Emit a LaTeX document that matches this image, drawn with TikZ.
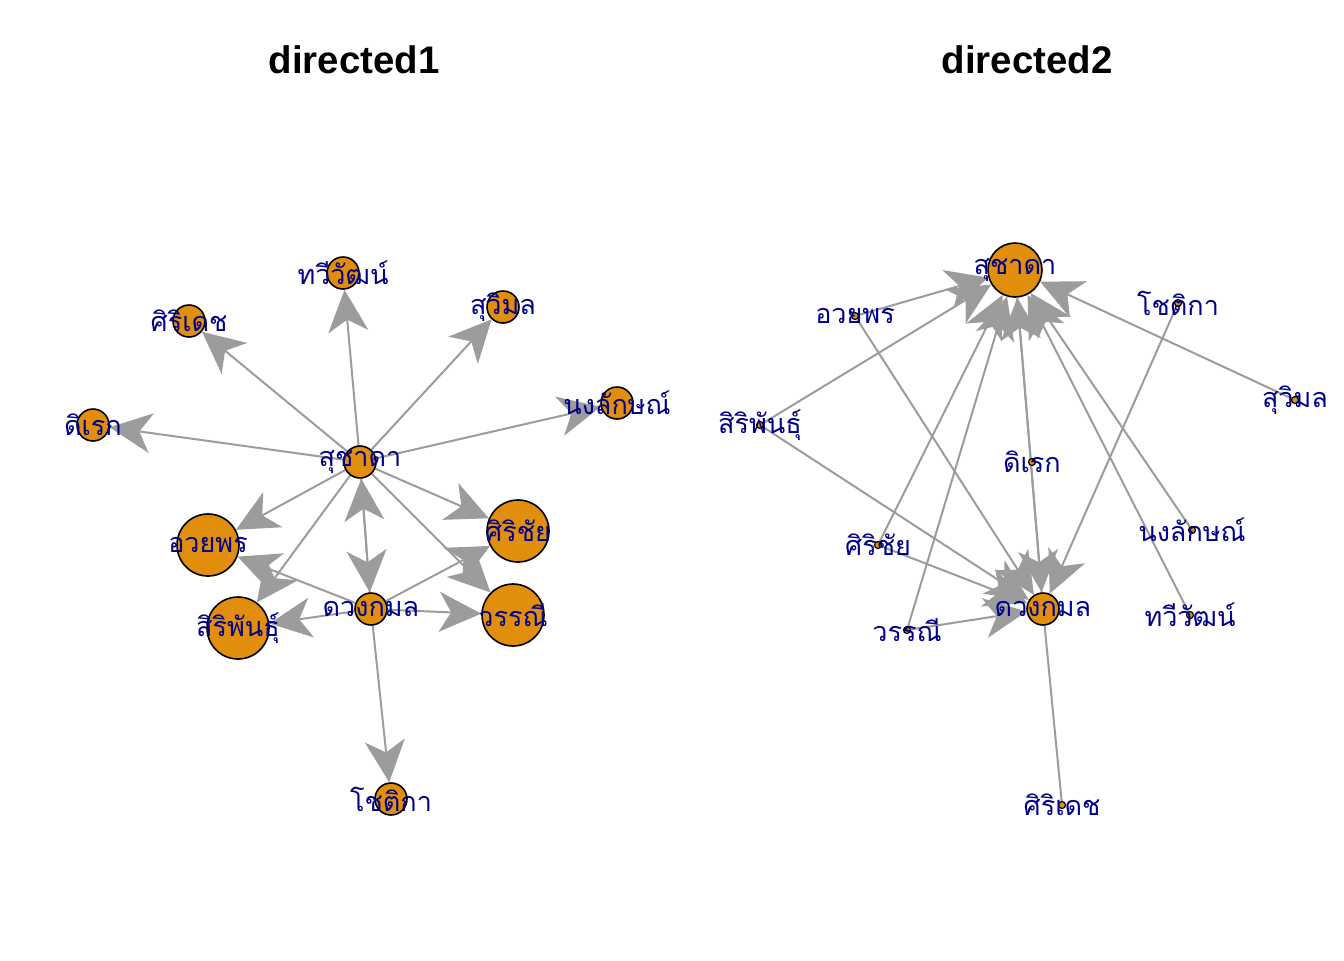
\documentclass[tikz,border=0pt]{standalone}
\usepackage{fontspec}
\setmainfont{Liberation Sans}
\newfontfamily\thaifont[Script=Thai]{Loma}
\usetikzlibrary{arrows.meta,backgrounds}
\definecolor{vfill}{HTML}{E08E0B}
\definecolor{ecol}{HTML}{9C9C9C}
\definecolor{lcol}{HTML}{00008B}

\begin{document}
\begin{tikzpicture}[x=0.5pt, y=-0.5pt,
	v/.style={circle, draw, fill=vfill, line width=0.8pt, inner sep=0pt, minimum size=16pt},
	big/.style={minimum size=31pt},
	dot/.style={minimum size=3.5pt, line width=0.6pt},
	lbl/.style={text=lcol, font=\thaifont\fontsize{13.5}{14}\selectfont, inner sep=0pt},
	e/.style={color=ecol, line width=1pt, -{Stealth[length=21pt, width=20pt, inset=6pt, fill=ecol, color=ecol]}},
	ttl/.style={font=\bfseries\fontsize{19.2}{23}\selectfont}]
		\useasboundingbox (0,0) rectangle (1344,960);

		% directed1
		\node [ttl] (T1) at (354,60) {directed1};
		\node [v] (SU1) at (360,462) [label={[lbl]center:สุชาดา}] {};
		\node [v] (TW1) at (343,273) [label={[lbl]center:ทวีวัฒน์}] {};
		\node [v] (SD1) at (189,321) [label={[lbl]center:ศิริเดช}] {};
		\node [v] (SV1) at (503,307) [label={[lbl]center:สุวิมล}] {};
		\node [v] (NL1) at (617,403) [label={[lbl]center:นงลักษณ์}] {};
		\node [v] (DR1) at (93,425) [label={[lbl]center:ดิเรก}] {};
		\node [v, big] (UP1) at (208,545) [label={[lbl]center:อวยพร}] {};
		\node [v, big] (SC1) at (518,531) [label={[lbl]center:ศิริชัย}] {};
		\node [v, big] (SP1) at (238,628) [label={[lbl]center:สิริพันธุ์}] {};
		\node [v] (DK1) at (371,609) [label={[lbl]center:ดวงกมล}] {};
		\node [v, big] (WN1) at (513,615) [label={[lbl]center:วรรณี}] {};
		\node [v] (CT1) at (391,799) [label={[lbl]center:โชติกา}] {};

		\begin{scope}[on background layer]
		\path[e] (SU1) edge (TW1);
		\path[e] (SU1) edge (SD1);
		\path[e] (SU1) edge (SV1);
		\path[e] (SU1) edge (NL1);
		\path[e] (SU1) edge (DR1);
		\path[e] (SU1) edge (UP1);
		\path[e] (SU1) edge (SC1);
		\path[e] (SU1) edge (SP1);
		\path[e] (SU1) edge (WN1);
		\path[e] (SU1) edge (DK1);
		\path[e] (DK1) edge (SU1);
		\path[e] (DK1) edge (UP1);
		\path[e] (DK1) edge (SP1);
		\path[e] (DK1) edge (WN1);
		\path[e] (DK1) edge (SC1);
		\path[e] (DK1) edge (CT1);
		\end{scope}

		% directed2
		\node [ttl] (T2) at (1027,60) {directed2};
		\node [v, minimum size=27pt] (SU2) at (1015,270) [label={[lbl]center:สุชาดา}] {};
		\node [v, dot] (UP2) at (855,316) [label={[lbl]center:อวยพร}] {};
		\node [v, dot] (CT2) at (1178,303) [label={[lbl]center:โชติกา}] {};
		\node [v, dot] (SV2) at (1295,400) [label={[lbl]center:สุวิมล}] {};
		\node [v, dot] (SP2) at (760,425) [label={[lbl]center:สิริพันธุ์}] {};
		\node [v, dot] (DR2) at (1032,462) [label={[lbl]center:ดิเรก}] {};
		\node [v, dot] (SC2) at (878,545) [label={[lbl]center:ศิริชัย}] {};
		\node [v, dot] (NL2) at (1192,530) [label={[lbl]center:นงลักษณ์}] {};
		\node [v, dot] (WN2) at (907,630) [label={[lbl]center:วรรณี}] {};
		\node [v] (DK2) at (1043,609) [label={[lbl]center:ดวงกมล}] {};
		\node [v, dot] (TW2) at (1190,615) [label={[lbl]center:ทวีวัฒน์}] {};
		\node [v, dot] (SD2) at (1062,805) [label={[lbl]center:ศิริเดช}] {};

		\begin{scope}[on background layer]
		\path[e] (UP2) edge (SU2);
		\path[e] (SP2) edge (SU2);
		\path[e] (SC2) edge (SU2);
		\path[e] (WN2) edge (SU2);
		\path[e] (DK2) edge (SU2);
		\path[e] (NL2) edge (SU2);
		\path[e] (TW2) edge (SU2);
		\path[e] (SV2) edge (SU2);
		\path[e] (SU2) edge (DK2);
		\path[e] (UP2) edge (DK2);
		\path[e] (SP2) edge (DK2);
		\path[e] (SC2) edge (DK2);
		\path[e] (WN2) edge (DK2);
		\path[e] (CT2) edge (DK2);
		\path[e, -] (DK2) edge (SD2);
		\end{scope}
	\end{tikzpicture}
\end{document}
